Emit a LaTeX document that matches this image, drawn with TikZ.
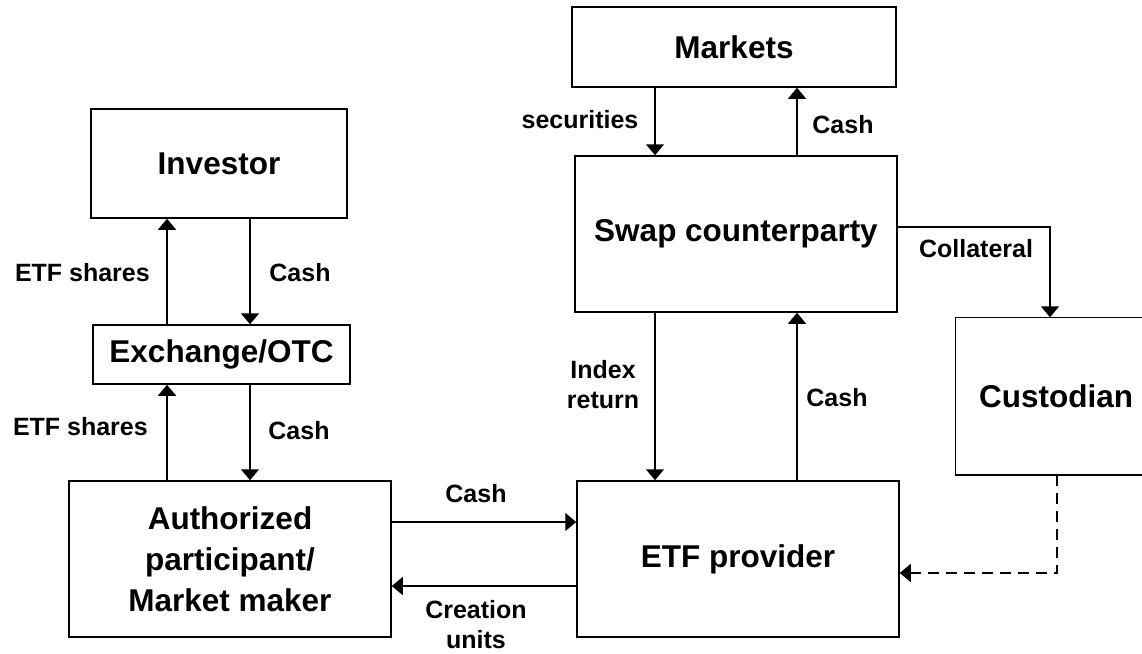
\documentclass[tikz,border=0pt]{standalone}
\usepackage{fontspec}
\setmainfont{Liberation Sans}
\usetikzlibrary{arrows.meta}
\tikzset{
  box/.style={draw, line width=1.5pt, rectangle, inner sep=0pt, align=center,
    font=\fontsize{31.5}{41}\selectfont\bfseries},
  openbox/.style={box, draw=none},
  boxline/.style={line width=1.5pt},
  lbl/.style={inner sep=0pt, align=center, font=\fontsize{25}{30}\selectfont\bfseries},
  conn/.style={line width=1.5pt, -{Triangle[width=18pt,length=11pt]}},
  dconn/.style={conn, dash pattern=on 11pt off 7pt}
}
\begin{document}
\begin{tikzpicture}[x=1pt,y=-1pt]
\useasboundingbox (0,0) rectangle (1142,653);
% boxes
\node[box, minimum width=256pt, minimum height=109pt] (inv) at (219,163.5) {Investor};
\node[box, minimum width=257pt, minimum height=59pt] (ex) at (221.5,354.5) {Exchange/OTC};
\node[box, minimum width=322pt, minimum height=156pt] (ap) at (230,559) {Authorized\\participant/\\Market maker};
\node[box, minimum width=322pt, minimum height=156pt] (etf) at (738,559) {ETF provider};
\node[box, minimum width=324pt, minimum height=80pt] (mk) at (734,47) {Markets};
\node[box, minimum width=322pt, minimum height=156pt] (sw) at (736,234) {Swap counterparty};
\node[openbox, minimum width=200pt, minimum height=156pt] (cu) at (1056,396) {Custodian};
\coordinate (pageR) at (1142,0);
\draw[boxline] (cu.north -| pageR) -- (cu.north west) -- (cu.south west) -- (cu.south -| pageR);
% helper coordinates
\coordinate (xL) at (167,0);
\coordinate (xR) at (250,0);
\coordinate (yA) at (0,522);
\coordinate (yB) at (0,586);
\coordinate (xS) at (655,0);
\coordinate (xC) at (797,0);
\coordinate (yCol) at (0,227);
\coordinate (colTurn) at (1050,227);
\coordinate (xD) at (1057,0);
\coordinate (dTurn) at (1057,573);
% connectors
\draw[conn] (ex.north -| xL) -- (inv.south -| xL);
\draw[conn] (inv.south -| xR) -- (ex.north -| xR);
\draw[conn] (ap.north -| xL) -- (ex.south -| xL);
\draw[conn] (ex.south -| xR) -- (ap.north -| xR);
\draw[conn] (ap.east |- yA) -- (etf.west |- yA);
\draw[conn] (etf.west |- yB) -- (ap.east |- yB);
\draw[conn] (mk.south -| xS) -- (sw.north -| xS);
\draw[conn] (sw.north -| xC) -- (mk.south -| xC);
\draw[conn] (sw.south -| xS) -- (etf.north -| xS);
\draw[conn] (etf.north -| xC) -- (sw.south -| xC);
\draw[conn] (sw.east |- yCol) -- (colTurn) -- (cu.north -| colTurn);
\draw[dconn] (cu.south -| xD) -- (dTurn) -- (etf.east |- dTurn);
% labels
\node[lbl, anchor=east] (l1) at (150,273) {ETF shares};
\node[lbl] (l2) at (300,273) {Cash};
\node[lbl, anchor=east] (l3) at (148,427) {ETF shares};
\node[lbl] (l4) at (299,431) {Cash};
\node[lbl] (l5) at (476,494) {Cash};
\node[lbl] (l6) at (476,625) {Creation\\units};
\node[lbl] (l7) at (580,120) {securities};
\node[lbl] (l8) at (843,125) {Cash};
\node[lbl] (l9) at (603,385) {Index\\return};
\node[lbl] (l10) at (837,398) {Cash};
\node[lbl] (l11) at (976,249) {Collateral};
\end{tikzpicture}
\end{document}
